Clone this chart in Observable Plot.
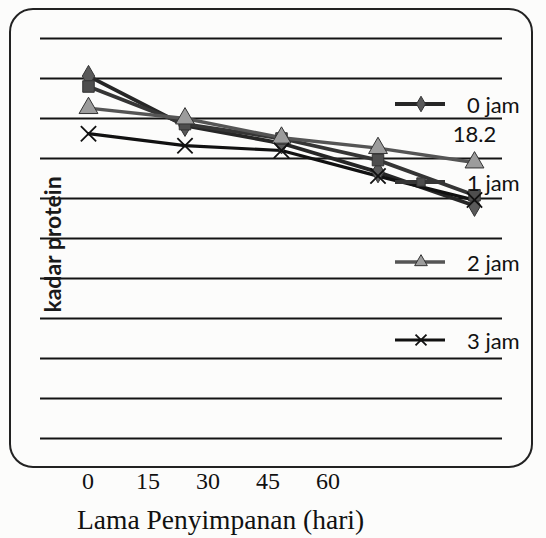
<!DOCTYPE html>
<html>
<head>
<meta charset="utf-8">
<script src="https://cdn.jsdelivr.net/npm/d3@7"></script>
<script src="https://cdn.jsdelivr.net/npm/@observablehq/plot@0.6"></script>
<style>
  html, body { margin: 0; padding: 0; background: #fcfcfb; }
  #wrap { position: relative; width: 546px; height: 538px; overflow: hidden; }
  #frame { position: absolute; left: 9px; top: 8px; width: 520px; height: 456px;
           border: 2px solid #222; border-radius: 24px; pointer-events: none; }
  #chart { position: absolute; left: 0; top: 0; }
  #legend { position: absolute; left: 0; top: 0; width: 546px; font-family: Lato, "Open Sans", sans-serif; font-size: 22px; color: #111; }
  .item { position: absolute; left: 393px; width: 150px; height: 22px; display: flex; align-items: center; white-space: nowrap; }
  .item span { margin-left: 20px; white-space: nowrap; }
  #ticks { position: absolute; left: 58px; top: 468px; font-family: "Liberation Serif", "DejaVu Serif", serif; font-size: 24px; color: #111; display: flex; }
  #ticks span { display: inline-block; width: 60px; text-align: center; }
  #xtitle { position: absolute; left: 77px; top: 504px; font-family: "Liberation Serif", "DejaVu Serif", serif; font-size: 27.5px; color: #111; white-space: nowrap; }
</style>
</head>
<body>
<div id="wrap">
  <div id="chart"></div>
  <div id="frame"></div>
  <div id="legend"></div>
  <div id="ticks"></div>
  <div id="xtitle"></div>
</div>
<script>
// ---- data ----
const days = [0, 15, 30, 45, 60];
const jam0 = [19.28, 18.66, 18.44, 18.08, 17.66];
const jam1 = [19.15, 18.68, 18.50, 18.23, 17.79];
const jam2 = [18.88, 18.75, 18.51, 18.38, 18.20];
const jam3 = [18.56, 18.41, 18.35, 18.03, 17.73];
const seriesNames = ["0 jam", "1 jam", "2 jam", "3 jam"];
const gridValues = [14.75, 15.25, 15.75, 16.25, 16.75, 17.25, 17.75, 18.25, 18.75, 19.25, 19.75];
const xTickLabels = ["0", "15", "30", "45", "60"];
const xTitle = "Lama Penyimpanan (hari)";
const yTitle = "kadar protein";
const dataLabel = "18.2";

// ---- styles ----
const styles = {
  "0 jam": {stroke: "#262626", width: 3.8, symbol: "diamond", fill: "#5a5a5a", r: 6.5},
  "1 jam": {stroke: "#353535", width: 3.8, symbol: "square", fill: "#4e4e4e", r: 6.5},
  "2 jam": {stroke: "#555555", width: 3.4, symbol: "triangle", fill: "#9c9c9c", r: 7},
  "3 jam": {stroke: "#111111", width: 3.2, symbol: "times", fill: "none", r: 7}
};

const allSeries = [jam0, jam1, jam2, jam3];
const rows = seriesNames.flatMap((s, i) => days.map((d, j) => ({series: s, day: d, value: allSeries[i][j]})));

const marks = [
  Plot.gridY(gridValues, {stroke: "#141414", strokeOpacity: 1, strokeWidth: 2.2}),
  Plot.text([yTitle], {frameAnchor: "left", textAnchor: "middle", rotate: -90, dx: 13, dy: 6, fontSize: 23, fontWeight: "bold", fill: "#1a1a1a", fontFamily: "Lato, sans-serif"})
];
for (const s of seriesNames) {
  const st = styles[s];
  const d = rows.filter(r => r.series === s);
  marks.push(Plot.line(d, {x: "day", y: "value", stroke: st.stroke, strokeWidth: st.width}));
}
for (const s of seriesNames) {
  const st = styles[s];
  const d = rows.filter(r => r.series === s);
  if (st.symbol === "times") {
    marks.push(Plot.dot(d, {x: "day", y: "value", symbol: "times", r: st.r, stroke: st.stroke, strokeWidth: 1.8}));
  } else {
    marks.push(Plot.dot(d, {x: "day", y: "value", symbol: st.symbol, r: st.r, fill: st.fill, stroke: "#333", strokeWidth: 1}));
  }
}
const lastJam2 = rows.filter(r => r.series === "2 jam" && r.day === days[days.length - 1]);
marks.push(Plot.text(lastJam2, {x: "day", y: "value", text: () => dataLabel, dy: -28, fontSize: 22, fill: "#111", fontFamily: "Lato, sans-serif"}));

const chart = Plot.plot({
  width: 546,
  height: 470,
  marginTop: 38,
  marginBottom: 32,
  marginLeft: 40,
  marginRight: 44,
  style: {background: "transparent"},
  x: {domain: [0, 60], range: [88, 474], axis: null},
  y: {domain: [14.75, 19.75], axis: null},
  marks
});
document.getElementById("chart").appendChild(chart);

// ---- legend ----
const legendTops = [93, 171, 251, 329];
const leg = document.getElementById("legend");
seriesNames.forEach((s, i) => {
  const st = styles[s];
  const item = document.createElement("div");
  item.className = "item";
  item.style.top = legendTops[i] + "px";
  const ns = "http://www.w3.org/2000/svg";
  const svg = document.createElementNS(ns, "svg");
  svg.setAttribute("width", 54); svg.setAttribute("height", 20);
  const line = document.createElementNS(ns, "line");
  line.setAttribute("x1", 2); line.setAttribute("x2", 52); line.setAttribute("y1", 10); line.setAttribute("y2", 10);
  line.setAttribute("stroke", st.stroke); line.setAttribute("stroke-width", st.width);
  svg.appendChild(line);
  const sym = {diamond: d3.symbolDiamond, square: d3.symbolSquare, triangle: d3.symbolTriangle, times: d3.symbolTimes}[st.symbol];
  const p = document.createElementNS(ns, "path");
  p.setAttribute("d", d3.symbol(sym, st.symbol === "times" ? 80 : 70)());
  p.setAttribute("transform", "translate(28,10)");
  if (st.symbol === "times") { p.setAttribute("fill", "none"); p.setAttribute("stroke", st.stroke); p.setAttribute("stroke-width", 1.8); }
  else { p.setAttribute("fill", st.fill); p.setAttribute("stroke", "#333"); }
  svg.appendChild(p);
  item.appendChild(svg);
  const t = document.createElement("span");
  t.textContent = s;
  item.appendChild(t);
  leg.appendChild(item);
});

// ---- x tick labels and title ----
const ticks = document.getElementById("ticks");
xTickLabels.forEach(l => { const sp = document.createElement("span"); sp.textContent = l; ticks.appendChild(sp); });
document.getElementById("xtitle").textContent = xTitle;
</script>
</body>
</html>
